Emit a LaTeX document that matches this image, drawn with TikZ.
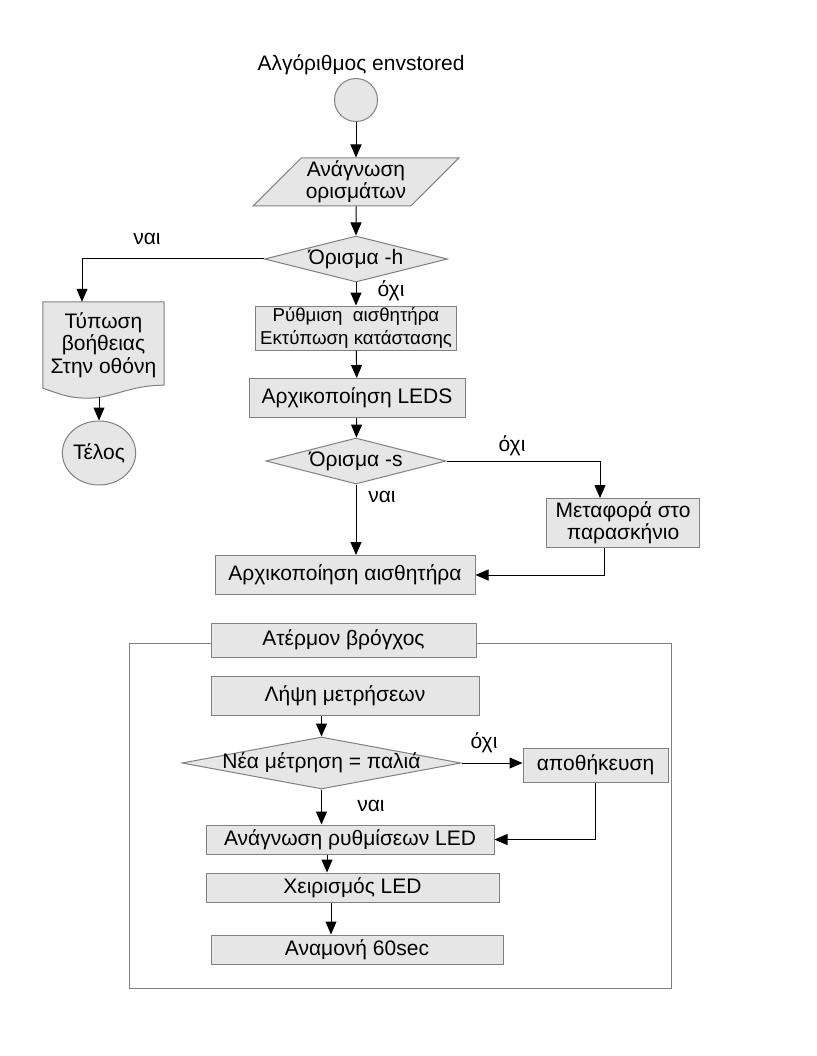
\documentclass[tikz,border=0pt]{standalone}
\usepackage{fontspec}
\setmainfont{Liberation Sans}
\usetikzlibrary{arrows.meta}
\usetikzlibrary{shapes.geometric}
\usetikzlibrary{backgrounds}
\usetikzlibrary{calc}

\definecolor{boxfill}{HTML}{E6E6E6}
\definecolor{boxline}{HTML}{808080}

\begin{document}
\begin{tikzpicture}[x=1pt,y=-1pt]
  \tikzset{every node/.style = {font=\fontsize{21}{22.5}\selectfont,align=center}}
  \tikzset{proc/.style = {shape=rectangle,draw=boxline,fill=boxfill,line width=1pt,inner sep=0pt}}
  \tikzset{decision/.style = {shape=diamond,draw=boxline,fill=boxfill,line width=1pt,inner sep=0pt}}
  \tikzset{terminal/.style = {shape=ellipse,draw=boxline,fill=boxfill,line width=1pt,inner sep=0pt}}
  \tikzset{lbl/.style = {inner sep=0pt}}
  \tikzset{arr/.style = {-{Triangle[length=13pt,width=11pt]},line width=1pt}}

  \useasboundingbox (0,0) rectangle (816,1056);

  % start and arguments
  \node (title) at (361,65) {Αλγόριθμος envstored};
  \node[terminal,minimum width=43,minimum height=43] (start) at (356,100) {};
  \node[shape=trapezium,trapezium left angle=44,trapezium right angle=136,trapezium stretches=true,
        draw=boxline,fill=boxfill,line width=1pt,inner sep=0pt,minimum width=206,minimum height=48] (read) at (356,182) {Ανάγνωση\\ορισμάτων};
  \node[decision,minimum width=183,minimum height=46,label=center:{Όρισμα -h}] (opth) at (356,259) {};

  % help branch
  \node[minimum width=121,minimum height=86,inner sep=0pt] (help) at (103.5,345) {Τύπωση\\βοήθειας\\Στην οθόνη};
  \begin{scope}[on background layer]
    \draw[draw=boxline,fill=boxfill,line width=1pt] (help.south west) -- (help.north west) -- (help.north east)
      -- ([yshift=3pt]help.south east) .. controls +(-35,0) and +(25,0) .. ($(help.south west)+(45,10)$)
      .. controls +(-20,0) and +(15,5) .. (help.south west) -- cycle;
  \end{scope}
  \node[terminal,minimum width=72,minimum height=64] (end) at (99,453) {Τέλος};

  % setup
  \node[proc,minimum width=201,minimum height=44,font=\fontsize{18.67}{22.5}\selectfont] (setup) at (356,328) {Ρύθμιση~~αισθητήρα\\Εκτύπωση κατάστασης};
  \node[proc,minimum width=216,minimum height=39] (leds) at (357,398) {Αρχικοποίηση LEDS};
  \node[decision,minimum width=180,minimum height=46,label=center:{Όρισμα -s}] (opts) at (356,461) {};
  \node[proc,minimum width=153,minimum height=49] (move) at (623,523) {Μεταφορά στο\\παρασκήνιο};
  \node[proc,minimum width=260,minimum height=39] (initsens) at (345,575) {Αρχικοποίηση αισθητήρα};

  \node[lbl] (yesh) at (147,239) {ναι};
  \node[lbl] (noh) at (391,291) {όχι};
  \node[lbl] (nos) at (512,446) {όχι};
  \node[lbl] (yess) at (382,497) {ναι};

  \foreach \from/\to in {start/read, read/opth, opth/setup, setup/leds, leds/opts}
    \draw[arr] (\from) -- (\to);
  \draw[arr] (opth.west) -| ([xshift=-21.5pt]help.north);
  \draw[arr] ($(help.south -| end.north)+(0,9)$) -- (end.north);
  \draw[arr] (opts.east) -| ([xshift=-23pt]move.north);
  \draw[arr] ([xshift=-19pt]move.south) |- (initsens.east);
  \draw[arr] (opts.south) -- (opts.south |- initsens.north);

  % endless loop
  \node[draw=boxline,line width=1pt,inner sep=0pt,minimum width=542,minimum height=345] (loop) at (400,815.5) {};
  \node[proc,minimum width=265,minimum height=34] (forever) at (343.5,640) {Ατέρμον βρόγχος};
  \node[proc,minimum width=268,minimum height=39] (meas) at (345,696) {Λήψη μετρήσεων};
  \node[decision,minimum width=279,minimum height=52,label=center:{Νέα μέτρηση = παλιά}] (cmp) at (321.5,763) {};
  \node[proc,minimum width=145,minimum height=34] (store) at (595.5,765) {αποθήκευση};
  \node[proc,minimum width=288,minimum height=29] (readled) at (350,839.5) {Ανάγνωση ρυθμίσεων LED};
  \node[proc,minimum width=293,minimum height=29] (handle) at (352.5,887.5) {Χειρισμός LED};
  \node[proc,minimum width=292,minimum height=29] (wait) at (357,949.5) {Αναμονή 60sec};

  \node[lbl] (nocmp) at (484,743) {όχι};
  \node[lbl] (yescmp) at (371,806) {ναι};

  \draw[arr] (cmp.north |- meas.south) -- (cmp.north);
  \draw[arr] (cmp.east) -- (cmp.east -| store.west);
  \draw[arr] (store.south) |- (readled.east);
  \draw[arr] (cmp.south) -- (cmp.south |- readled.north);
  \draw[arr] ([xshift=-23pt]readled.south) -- ([xshift=-25.5pt]handle.north);
  \draw[arr] ([xshift=-21.5pt]handle.south) -- ([xshift=-26pt]wait.north);
\end{tikzpicture}
\end{document}
